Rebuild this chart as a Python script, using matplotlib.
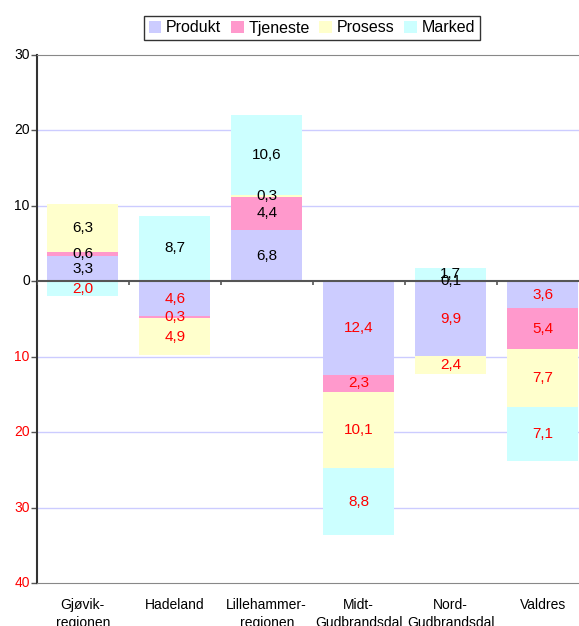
import matplotlib.pyplot as plt
import numpy as np

plt.rcParams['font.family'] = ['Liberation Sans', 'DejaVu Sans']

regioner = ["Gjøvik-\nregionen", "Hadeland", "Lillehammer-\nregionen",
            "Midt-\nGudbrandsdal", "Nord-\nGudbrandsdal", "Valdres"]
serier = ["Produkt", "Tjeneste", "Prosess", "Marked"]
produkt = [3.3, -4.6, 6.8, -12.4, -9.9, -3.6]
tjeneste = [0.6, -0.3, 4.4, -2.3, 0.1, -5.4]
prosess = [6.3, -4.9, 0.3, -10.1, -2.4, -7.7]
marked = [-2.0, 8.7, 10.6, -8.8, 1.7, -7.1]
yticks = [30, 20, 10, 0, -10, -20, -30, -40]

farger = ["#ccccff", "#ff99cc", "#ffffcc", "#ccffff"]

fig = plt.figure(figsize=(5.79, 6.26), dpi=100)
ax = fig.add_axes([36.7 / 579, 1 - 583 / 626, 552 / 579, 528 / 626])

x = np.arange(len(regioner))
pos_base = np.zeros(len(regioner))
neg_base = np.zeros(len(regioner))
for navn, verdier, farge in zip(serier, [produkt, tjeneste, prosess, marked], farger):
    v = np.array(verdier)
    bunn = np.where(v >= 0, pos_base, neg_base)
    ax.bar(x, v, bottom=bunn, width=0.77, color=farge, label=navn, zorder=2)
    for xi, b, vi in zip(x, bunn, v):
        ax.text(xi, b + vi / 2, f"{abs(vi):.1f}".replace(".", ","),
                ha="center", va="center", fontsize=11,
                color="black" if vi >= 0 else "red", zorder=4)
    pos_base += np.where(v >= 0, v, 0)
    neg_base += np.where(v < 0, v, 0)

ax.set_xlim(-0.5, len(regioner) - 0.5)
ax.set_ylim(-40, 30)
ax.set_yticks(yticks)
ax.set_yticklabels([])
ax.tick_params(axis="y", length=4, width=1, color="#555555")

# y-etiketter uten minustegn, negative i rødt
for t in yticks:
    ax.annotate(str(abs(t)), xy=(0, t), xycoords=("axes fraction", "data"),
                xytext=(-5, 0), textcoords="offset points",
                ha="right", va="center", fontsize=10,
                color="red" if t < 0 else "black", annotation_clip=False)

for t in yticks[1:-1]:
    if t != 0:
        ax.axhline(t, color="#ccccff", lw=1, zorder=1)

# nullinje med kategorimerker
ax.axhline(0, color="#555555", lw=1.5, zorder=3)
ax.vlines(np.arange(len(regioner) + 1) - 0.5, -0.55, 0, color="#555555", lw=1.2, zorder=3)

ax.set_xticks(x)
ax.set_xticklabels(regioner, fontsize=10, linespacing=1.3)
ax.tick_params(axis="x", length=0, pad=11)

ax.spines["left"].set_color("#333333")
ax.spines["left"].set_linewidth(1.5)
ax.spines["top"].set_color("#888888")
ax.spines["bottom"].set_color("#888888")
ax.spines["right"].set_visible(False)

leg = fig.legend(loc="center", bbox_to_anchor=(312 / 579, 1 - 28 / 626), ncol=4,
                 fontsize=11.5, frameon=True, fancybox=False, edgecolor="black",
                 handlelength=0.8, handleheight=0.8, handletextpad=0.3,
                 columnspacing=0.6, borderpad=0.3, borderaxespad=0)
leg.get_frame().set_linewidth(1)

fig.savefig("out.png", dpi=100)
